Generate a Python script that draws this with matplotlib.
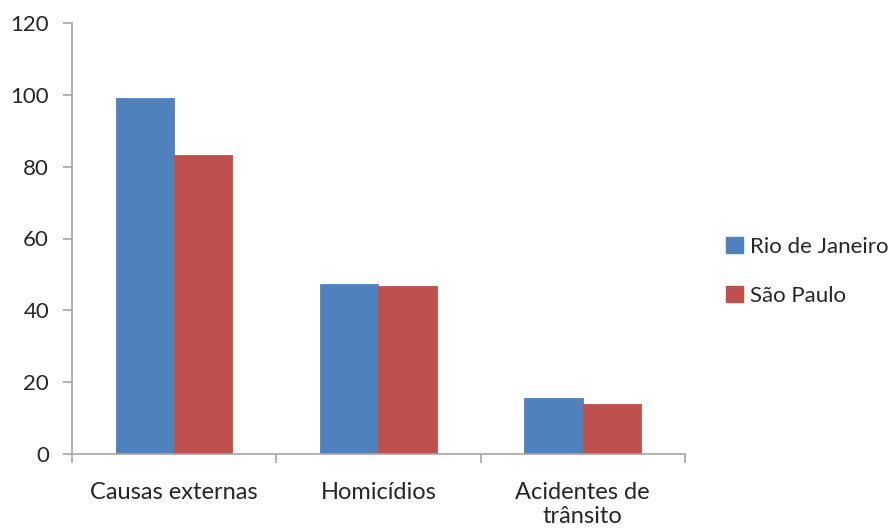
import numpy as np
import matplotlib.pyplot as plt
import matplotlib.patches as mpatches

categories = ["Causas externas", "Homicídios", "Acidentes de\ntrânsito"]
series = ["Rio de Janeiro", "São Paulo"]
rio = [99.0, 47.4, 15.5]
sao_paulo = [83.2, 46.8, 13.8]
colors = ["#4F81BD", "#C0504D"]

plt.rcParams['font.family'] = ['Lato', 'DejaVu Sans']
axis_gray = "#A6A6A6"
text_col = "#262626"

fig = plt.figure(figsize=(8.94, 5.30), dpi=100)
ax = fig.add_axes([0.0805, 0.1434, 0.6855, 0.8132])

bar_width = 1 / 3.5
x = np.arange(len(categories))
for i, (vals, col) in enumerate(zip([rio, sao_paulo], colors)):
	ax.bar(x + (i - 0.5) * bar_width, vals, bar_width, color=col,
		edgecolor=col, linewidth=0.6, label=series[i])

ax.set_xlim(-0.5, len(categories) - 0.5)
ax.set_ylim(0, 120)
ax.set_yticks(np.arange(0, 121, 20))

ax.set_xticks(x)
ax.set_xticklabels(categories, fontsize=17, color=text_col, linespacing=1.2)
ax.set_xticks(np.arange(-0.5, len(categories)), minor=True)
ax.tick_params(axis='x', which='major', length=0, pad=20)
ax.tick_params(axis='x', which='minor', length=6.5, width=1.2, color=axis_gray, direction='out')
ax.tick_params(axis='y', length=6.5, width=1.2, color=axis_gray, direction='out',
	labelsize=16, labelcolor=text_col, pad=10)

for side in ['top', 'right']:
	ax.spines[side].set_visible(False)
for side in ['left', 'bottom']:
	ax.spines[side].set_color(axis_gray)
	ax.spines[side].set_linewidth(1.2)

patches = [mpatches.Patch(color=c, label=s) for c, s in zip(colors, series)]
fig.legend(handles=patches, loc='center left', bbox_to_anchor=(0.79, 0.488),
	frameon=False, fontsize=16, labelspacing=1.3, handlelength=0.75,
	handleheight=0.75, handletextpad=0.3, labelcolor=text_col)

plt.savefig("out.png", dpi=100)
plt.close('all')
